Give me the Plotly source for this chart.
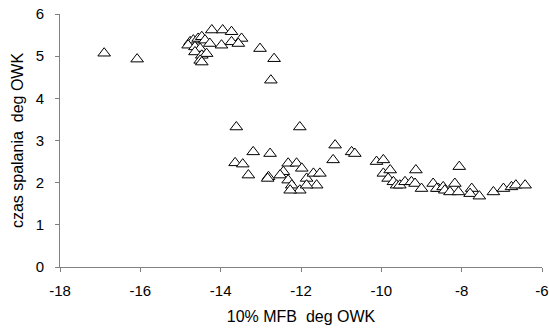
import plotly.graph_objects as go

mfb10 = [-16.9, -16.08,
         -14.22, -13.95, -13.73, -13.48, -14.76, -14.68, -14.56, -14.47, -14.39,
         -14.81, -14.64, -14.51, -14.27, -13.98, -13.73, -13.56, -14.64, -14.47,
         -14.35, -14.51, -14.47, -13.02, -12.67, -12.75,
         -13.61, -12.03, -13.19, -12.77, -13.64, -13.45, -13.31, -12.81, -12.83,
         -12.32, -12.11, -12.44, -12.52, -11.98, -12.32, -12.23, -12.03, -12.27,
         -11.86, -11.69, -11.53, -11.61, -11.86,
         -11.15, -11.20, -10.74, -10.66, -10.12, -9.95, -9.95, -9.78, -9.83,
         -9.70, -9.62, -9.54, -9.41, -9.25, -9.14, -9.16, -9.0, -8.71, -8.58,
         -8.06, -8.62, -8.46, -8.42, -8.29, -8.17, -8.08, -7.75, -7.79, -7.56,
         -7.21, -6.96, -6.76, -6.65, -6.42]
czas = [5.07, 4.93,
        5.62, 5.62, 5.58, 5.42, 5.34, 5.38, 5.42, 5.46, 5.38,
        5.26, 5.22, 5.18, 5.30, 5.26, 5.34, 5.30, 5.10, 5.02,
        5.06, 4.90, 4.86, 5.18, 4.94, 4.43,
        3.32, 3.32, 2.73, 2.69, 2.47, 2.44, 2.18, 2.14, 2.10,
        2.46, 2.46, 2.26, 2.18, 2.34, 2.06, 1.94, 1.82, 1.82,
        2.10, 2.22, 2.22, 1.94, 1.94,
        2.89, 2.54, 2.73, 2.69, 2.50, 2.54, 2.22, 2.30, 2.10,
        2.02, 1.94, 1.94, 2.02, 2.02, 2.30, 1.98, 1.86, 1.98, 1.86,
        2.38, 1.86, 1.90, 1.82, 1.78, 1.98, 1.78, 1.86, 1.74, 1.68,
        1.78, 1.86, 1.90, 1.94, 1.94]

x_ticks = [-18, -16, -14, -12, -10, -8, -6]
x_ticklabels = ["-18", "-16", "-14", "-12", "-10", "-8", "-6"]
y_ticks = [0, 1, 2, 3, 4, 5, 6]
y_ticklabels = ["0", "1", "2", "3", "4", "5", "6"]

FONT = "Liberation Sans, Arial"

fig = go.Figure(go.Scatter(
    x=mfb10, y=czas, mode="markers",
    marker=dict(symbol="triangle-up", size=11, color="white",
                line=dict(color="black", width=1)),
    showlegend=False, cliponaxis=False,
))

axis_common = dict(showgrid=False, zeroline=False, showline=True,
                   linecolor="#808080", linewidth=1, ticks="outside",
                   tickcolor="#808080", ticklen=4, automargin=False,
                   ticklabeloverflow="allow",
                   tickfont=dict(family=FONT, size=15, color="black"))

fig.update_layout(
    width=549, height=328,
    margin=dict(l=60, r=7, t=14, b=61),
    paper_bgcolor="white", plot_bgcolor="white",
    font=dict(family=FONT, size=15, color="black"),
    xaxis=dict(range=[-18, -6], tickvals=x_ticks, ticktext=x_ticklabels,
               ticklabelstandoff=6,
               title=dict(text="10% MFB\u00a0 deg OWK", standoff=12,
                          font=dict(family=FONT, size=16)), **axis_common),
    yaxis=dict(range=[0, 6], tickvals=y_ticks, ticktext=y_ticklabels,
               ticklabelstandoff=8,
               title=dict(text="czas spalania\u00a0 deg OWK", standoff=8,
                          font=dict(family=FONT, size=16)), **axis_common),
)

fig.write_html("out.html",
               config={"displayModeBar": False},
               post_script="document.body.style.margin='0';document.body.style.overflow='hidden';")
